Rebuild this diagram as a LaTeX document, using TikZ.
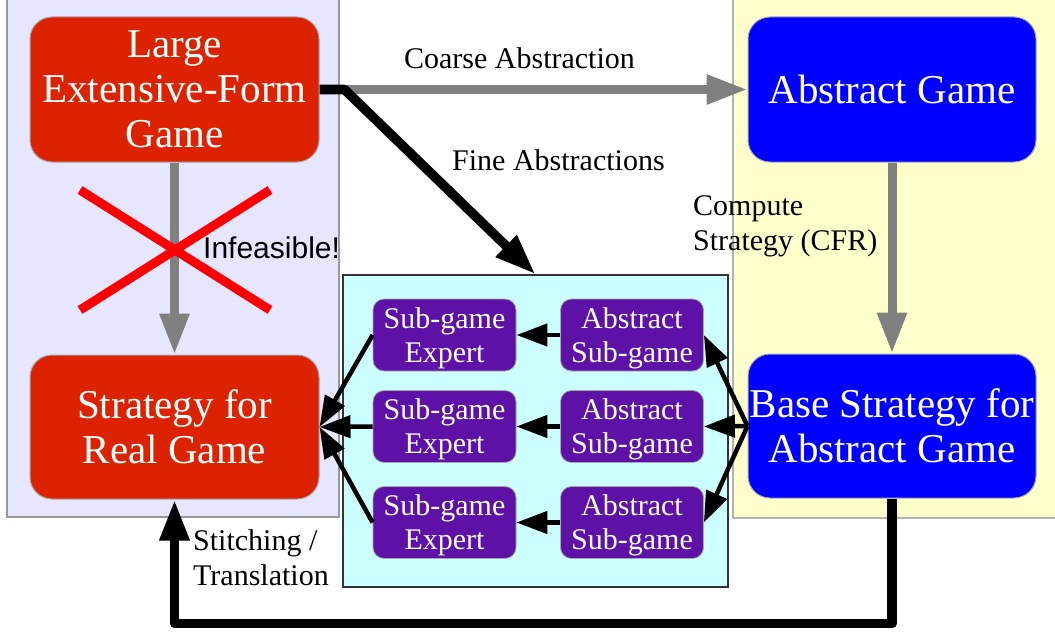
\documentclass[tikz,border=0pt]{standalone}
\usepackage{fontspec}
\setmainfont{Liberation Serif}
\newfontfamily\labelsans{Liberation Sans}
\usetikzlibrary{arrows.meta}
\definecolor{gamered}{HTML}{DD2200}
\definecolor{gameblue}{HTML}{0000FF}
\definecolor{subpurple}{HTML}{5E11A6}
\definecolor{panelblue}{HTML}{E6E6FF}
\definecolor{panelyellow}{HTML}{FFFFCC}
\definecolor{panelcyan}{HTML}{CCFFFF}
\definecolor{arrowgray}{HTML}{808080}
\definecolor{crossred}{HTML}{FF0000}

\begin{document}
\begin{tikzpicture}[x=1pt,y=-1pt,
  bigbox/.style={rounded corners=22pt, draw=gray!70, line width=1pt, text=white,
    align=center, minimum width=289pt, minimum height=145pt, inner sep=0pt,
    font=\fontsize{41}{45}\selectfont},
  redbox/.style={bigbox, fill=gamered},
  bluebox/.style={bigbox, fill=gameblue, minimum width=288pt},
  subbox/.style={rounded corners=11pt, draw=gray!70, line width=0.8pt, fill=subpurple,
    text=white, align=center, minimum width=143pt, minimum height=72pt, inner sep=0pt,
    text depth=0pt, font=\fontsize{30}{34}\selectfont},
  grayarrow/.style={draw=arrowgray, line width=9pt, -{Triangle[length=41pt,width=28pt]}},
  thickarrow/.style={draw=black, line width=9.5pt, line join=round,
    -{Triangle[length=41pt,width=28pt]}},
  thinarrow/.style={draw=black, line width=4.5pt, -{Triangle[length=31pt,width=22pt]}},
  caption/.style={font=\fontsize{30}{35}\selectfont, align=left, inner sep=0pt},
  cross/.style={draw=crossred, line width=9pt},
]
\useasboundingbox (0,0) rectangle (1055,634);
\clip (0,0) rectangle (1055,634);

% background panels
\draw[fill=panelblue, draw=gray!80, line width=1.2pt] (7,-10) rectangle (339,517);
\draw[fill=panelyellow, draw=gray!60, line width=1.2pt] (733,-10) rectangle (1070,518);
\node[draw=black!80, fill=panelcyan, line width=1.2pt, minimum width=385pt,
  minimum height=312pt, inner sep=0pt] (subpanel) at (535.5,431) {};

% main game nodes
\node[redbox] (efg) at (174.5,89.5) {Large\\Extensive-Form\\Game};
\node[redbox, minimum height=144pt] (real) at (174.5,427) {Strategy for\\Real Game};
\node[bluebox] (abs) at (892,89.5) {Abstract Game};
\node[bluebox, minimum height=144pt] (base) at (892,426) {Base Strategy for\\Abstract Game};

% sub-game nodes
\node[subbox] (exp1) at (444.5,335) {Sub-game\\Expert};
\node[subbox] (exp2) at (444.5,426.5) {Sub-game\\Expert};
\node[subbox] (exp3) at (444.5,522.5) {Sub-game\\Expert};
\node[subbox] (sub1) at (632,335) {Abstract\\Sub-game};
\node[subbox] (sub2) at (632,426.5) {Abstract\\Sub-game};
\node[subbox] (sub3) at (632,522.5) {Abstract\\Sub-game};

% gray connectors
\draw[grayarrow] (efg.east) -- (abs.west);
\draw[grayarrow] (efg.south) -- (real.north);
\draw[grayarrow] (abs.south) -- (base.north);

% infeasible cross
\draw[cross] (80,190) -- (270,310);
\draw[cross] (270,190) -- (80,310);

% black connectors
\draw[thickarrow] (efg.east) -- ++(25,0) -- (subpanel.north);
\draw[thickarrow] (base.south) -- ++(0,125) -| (real.south);

\foreach \i in {1,2,3} {
  \draw[thinarrow] (sub\i.west) -- (exp\i.east);
  \draw[thinarrow] (exp\i.west) -- (real.east);
  \draw[thinarrow] (base.west) -- (sub\i.east);
}

% labels (base anchor of a two-line label sits on its last line)
\node[caption, anchor=base] (coarse) at (519.5,69) {Coarse Abstraction};
\node[caption, anchor=base west] (finelbl) at (452,170) {Fine Abstractions};
\node[caption, anchor=base west] (cfr) at (693,250) {Compute\\Strategy (CFR)};
\node[caption, anchor=base west, font=\labelsans\fontsize{30}{35}\selectfont] (inf)
  at (203,258) {Infeasible!};
\node[caption, anchor=base west] (stitch) at (193,585) {Stitching /\\Translation};
\end{tikzpicture}
\end{document}
